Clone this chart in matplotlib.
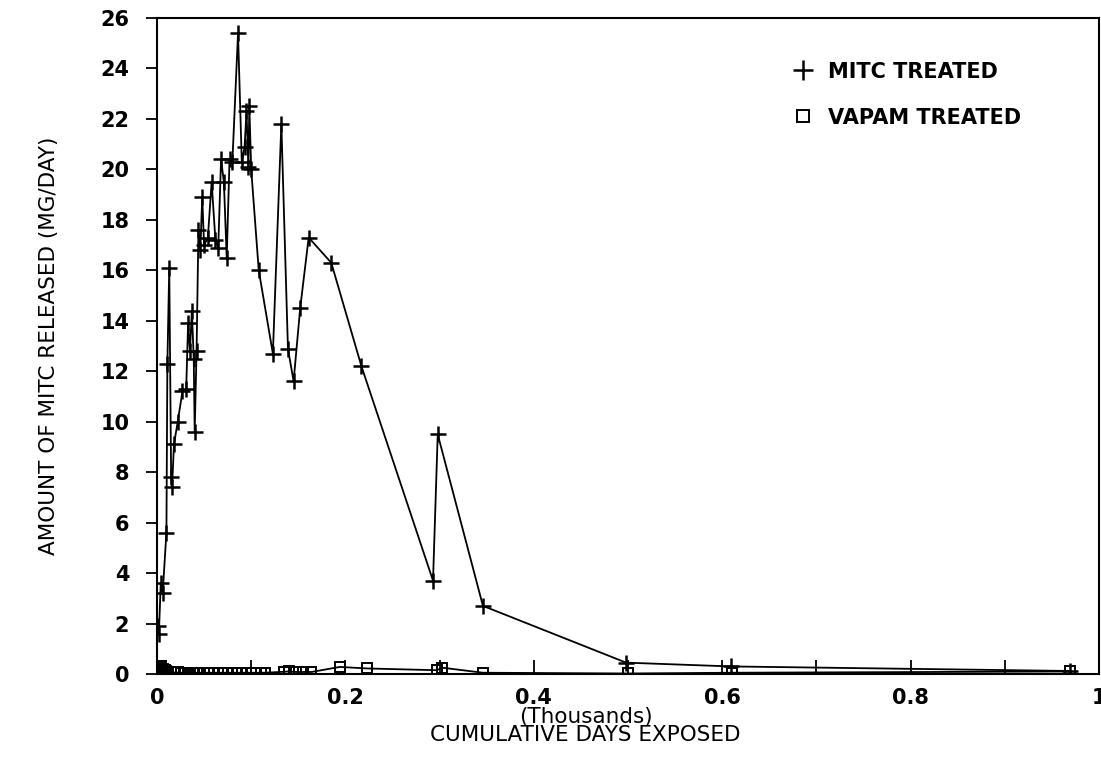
import numpy as np
import matplotlib
matplotlib.use("Agg")
import matplotlib.pyplot as plt
from matplotlib.ticker import MultipleLocator

# MITC treated (x in thousands of days, y in mg/day)
mitc_x = [0.001, 0.002, 0.004, 0.006, 0.010, 0.011, 0.013, 0.015, 0.016, 0.018,
          0.022, 0.027, 0.031, 0.033, 0.035, 0.037, 0.039, 0.040, 0.042, 0.044,
          0.046, 0.048, 0.050, 0.054, 0.058, 0.062, 0.065, 0.068, 0.071, 0.074,
          0.077, 0.080, 0.086, 0.090, 0.093, 0.095, 0.097, 0.098, 0.100, 0.108,
          0.123, 0.132, 0.139, 0.145, 0.152, 0.161, 0.185, 0.217, 0.293, 0.298,
          0.346, 0.498, 0.609, 0.969]
mitc_y = [1.9, 1.6, 3.6, 3.2, 5.6, 12.3, 16.1, 7.8, 7.4, 9.1,
          10.0, 11.2, 11.3, 13.9, 12.8, 14.4, 12.5, 9.6, 12.8, 17.6,
          16.8, 18.9, 17.0, 17.3, 19.5, 17.2, 16.9, 20.4, 19.5, 16.5,
          20.4, 20.3, 25.4, 20.3, 20.9, 22.3, 20.1, 22.5, 20.0, 16.0,
          12.7, 21.8, 12.9, 11.6, 14.5, 17.3, 16.3, 12.2, 3.7, 9.5,
          2.7, 0.45, 0.3, 0.12]

# VAPAM treated
vapam_x = [0.001, 0.002, 0.004, 0.006, 0.008, 0.010, 0.012, 0.015, 0.018, 0.022,
           0.026, 0.030, 0.034, 0.038, 0.042, 0.046, 0.050, 0.055, 0.060, 0.065,
           0.070, 0.075, 0.080, 0.085, 0.090, 0.095, 0.100, 0.105, 0.110, 0.115,
           0.135, 0.140, 0.148, 0.155, 0.164, 0.194, 0.223, 0.297, 0.303, 0.346,
           0.500, 0.610, 0.969]
vapam_y = [0.10, 0.25, 0.30, 0.20, 0.15, 0.10, 0.08, 0.08, 0.06, 0.06,
           0.05, 0.05, 0.05, 0.05, 0.05, 0.05, 0.05, 0.05, 0.05, 0.05,
           0.05, 0.05, 0.05, 0.05, 0.05, 0.05, 0.05, 0.05, 0.05, 0.05,
           0.09, 0.10, 0.08, 0.08, 0.08, 0.28, 0.22, 0.15, 0.25, 0.05,
           0.02, 0.05, 0.10]

fig = plt.figure(figsize=(11.01, 7.64), dpi=100)
ax = fig.add_axes([0.1426, 0.1178, 0.8556, 0.8586])

ax.plot(mitc_x, mitc_y, color='black', lw=1.3, marker='+', ms=12, mew=1.8,
        label='MITC TREATED')
ax.plot(vapam_x, vapam_y, color='black', lw=1.3, marker='s', ms=7, mew=1.4,
        mfc='none', label='VAPAM TREATED')

ax.set_xlim(0, 1)
ax.set_ylim(0, 26)
ax.set_yticks(np.arange(0, 27, 2))
ax.set_xticks([0, 0.2, 0.4, 0.6, 0.8, 1.0])
ax.set_xticklabels(['0', '0.2', '0.4', '0.6', '0.8', '1'])
ax.xaxis.set_minor_locator(MultipleLocator(0.1))
ax.tick_params(axis='y', direction='out', length=8, width=1.3, labelsize=15, pad=12)
ax.tick_params(axis='x', which='both', direction='in', length=10, width=1.3,
               labelsize=15, pad=10)
for lab in ax.get_xticklabels() + ax.get_yticklabels():
    lab.set_fontweight('bold')
for s in ax.spines.values():
    s.set_linewidth(1.5)

ax.set_xlabel('(Thousands)\nCUMULATIVE DAYS EXPOSED', fontsize=15.5, linespacing=0.9)
ax.xaxis.set_label_coords(0.455, -0.05, transform=ax.transAxes)
ax.xaxis.label.set_va('top')
ax.set_ylabel('AMOUNT OF MITC RELEASED (MG/DAY)', fontsize=15.5, labelpad=30)

leg = ax.legend(loc='upper left', bbox_to_anchor=(0.655, 0.962), frameon=False,
                fontsize=15, handlelength=1.0, handletextpad=0.7, labelspacing=1.25,
                markerscale=1.15)
for h in leg.legend_handles:
    h.set_linestyle('none')
for t in leg.get_texts():
    t.set_fontweight('bold')

fig.savefig('out.png', dpi=100)
